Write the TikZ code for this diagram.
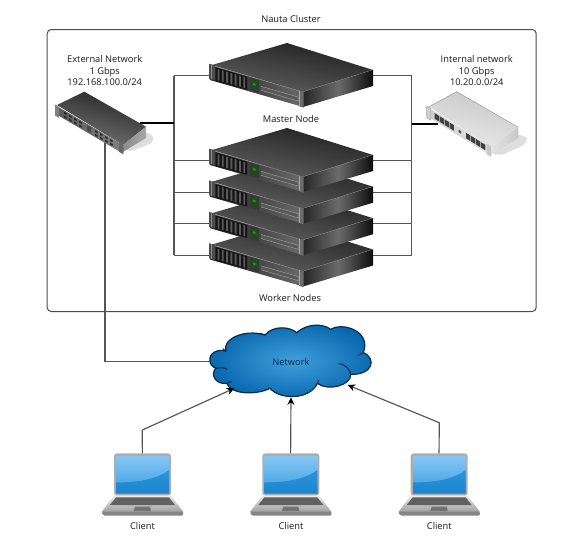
\documentclass[tikz,border=0pt]{standalone}
\usepackage{fontspec}
\setmainfont{Open Sans}
\usetikzlibrary{arrows.meta}
\definecolor{wire}{HTML}{555555}
\definecolor{navy}{HTML}{0A2A4A}
\definecolor{cloudin}{HTML}{3FA0DC}
\definecolor{cloudout}{HTML}{0867AE}
\definecolor{scrtop}{HTML}{86C8F4}
\definecolor{scrmid}{HTML}{3C9CE0}
\definecolor{scrlow}{HTML}{1D84CC}
\definecolor{scrlow2}{HTML}{2B95DC}
\tikzset{
  x=1pt,y=-1pt,
  wireline/.style={draw=wire,line width=1.15pt,line join=miter},
  arrowline/.style={wireline,-{Stealth[length=7.5pt,width=7pt,color=black]}},
  lab/.style={inner sep=0pt,align=center,font=\fontsize{9.3}{11.4}\selectfont,text=black!90},
}
\newcommand{\rackserver}[2]{%
 \begin{scope}[shift={(210,#2)}]
  \coordinate (#1-l) at (0,10.5);
  \coordinate (#1-r) at (163,10.5);
  % top face
  \path[top color=black!88,bottom color=black!62,shading angle=-12] (2,0) -- (77,-22) -- (163,5) -- (93,27) -- cycle;
  \draw[black!42,line width=0.8pt] (93,27) -- (163,5);
  % right face
  \path[left color=black!85,right color=black!95,middle color=black!58] (93,27) -- (163,5) -- (163,21) -- (93,42) -- cycle;
  % front face
  \begin{scope}[cm={1,-0.29,0,1,(0,0)}]
   \path[left color=black!88,right color=black!58] (0,0) rectangle (93,15);
   \draw[black!50,line width=0.6pt] (4,0) -- (93,0);
   \fill[black!70] (-1,-1) rectangle (5,14);
   \draw[black!45,line width=0.4pt] (1,-1) -- (1,14);
   \fill[black!92] (6,1) rectangle (37,14);
   \foreach \u in {7.5,11.8,16.1,20.4,24.7,29,33.3}
     \fill[black!65] (\u,2) rectangle ++(1.9,11);
   \fill[black!78] (40,1) rectangle (49,14);
   \fill[green!40!black] (41.5,4.5) rectangle (47,8.5);
   \fill[green!55!black!90] (42.8,5.5) rectangle (45.5,7.5);
   \draw[black!40,line width=0.5pt,fill=black!65] (51,6.5) -- (88,6.5) -- (88,10.5) -- (51,10.5);
   \fill[black!58] (89,-0.5) rectangle (93.5,15.5);
   \draw[black!35,line width=0.4pt] (89.6,0) -- (89.6,15);
  \end{scope}
 \end{scope}}
\newcommand{\laptop}[2]{%
 \begin{scope}[shift={(#2,320)},scale=1/3]
  \coordinate (#1-t) at (157,400);
  \fill[black!32,rounded corners=3pt] (72,400) rectangle (243,527);
  \path[top color=scrtop,bottom color=scrmid] (79,408) rectangle (237,520);
  \path[top color=scrlow2,bottom color=scrlow] (79,520) -- (79,487) .. controls (150,488) and (205,475) .. (237,450) -- (237,520) -- cycle;
  \path[top color=black!8,bottom color=black!38] (72,527) -- (243,527) -- (280,576) -- (35,576) -- cycle;
  \fill[black!48,rounded corners=2pt] (35,575) -- (280,575) -- (280,587) -- (38,587) -- cycle;
  \fill[black!62] (78,532) -- (237,532) -- (255,555) -- (60,555) -- cycle;
  \fill[black!55] (135,560) -- (180,560) -- (183,573) -- (131,573) -- cycle;
 \end{scope}}
\begin{document}
\begin{tikzpicture}
\useasboundingbox (0,0) rectangle (576,542);
\fill[white] (0,0) rectangle (576,542);

% cluster frame
\node[draw=black!70,line width=1pt,rounded corners=4pt,minimum width=489pt,minimum height=282pt,inner sep=0pt,anchor=north west] (frame) at (46.7,29) {};
\node[lab] (title) at (291,19) {Nauta Cluster};

% named ports used by connectors
\coordinate (extR) at (140,123);
\coordinate (extB) at (105,141);
\coordinate (intL) at (438,124);
\coordinate (busLtop) at (174,75.7);
\coordinate (busLmid) at (174,123);
\coordinate (busLw1) at (174,160.7);
\coordinate (busLw2) at (174,192.3);
\coordinate (busLw3) at (174,223.7);
\coordinate (busLw4) at (174,255.3);
\coordinate (busRtop) at (411.7,75.7);
\coordinate (busRmid) at (411.7,124);
\coordinate (busRw1) at (411.7,160.7);
\coordinate (busRw2) at (411.7,192.3);
\coordinate (busRw3) at (411.7,223.7);
\coordinate (busRw4) at (411.7,255.3);
\coordinate (netL) at (211,361.7);
\coordinate (netBL) at (234.3,388.3);
\coordinate (netB) at (291,397.3);
\coordinate (netBR) at (347.7,385);

% shadows under the switches
\fill[black!13,rounded corners=3pt] (125,150) -- (147,132) -- (154,137) -- (152,143) -- (132,151) -- cycle;
\fill[black!13,rounded corners=3pt] (492,154) -- (518,134) -- (528,138) -- (524,145) -- (502,155) -- cycle;

% connectors (devices are drawn over their ends)
\draw[wireline] (busLtop) -- (busLw4);
\draw[wireline] (busRtop) -- (busRw4);
\draw[wireline,black] (extR) -- (busLmid);
\draw[wireline,black] (intL) -- (busRmid);
\foreach \a/\b in {busLtop/220,busLw1/220,busLw2/220,busLw3/220,busLw4/220}
  \draw[wireline] (\a) -- (\b,0 |- \a);
\foreach \a in {busRtop,busRw1,busRw2,busRw3,busRw4}
  \draw[wireline] (\a) -- (360,0 |- \a);
\draw[wireline] (extB) |- (netL);

% servers
\rackserver{w4}{244.5}
\rackserver{w3}{213.2}
\rackserver{w2}{181.7}
\rackserver{w1}{150}
\rackserver{m}{65}
\node[lab] (master) at (291,119) {Master Node};
\node[lab] (workers) at (290,297.7) {Worker Nodes};

% external switch
\path[top color=black!85,bottom color=black!55,shading angle=-15] (57,105) -- (84.3,91.7) -- (146,126.7) -- (123,145) -- cycle;
\path[left color=black!45,right color=black!35] (123,145) -- (146,126.7) -- (146,138) -- (123,152) -- cycle;
\begin{scope}[shift={(55,105)},cm={1,-0.59,0,1,(0,0)}]
 \path[left color=black!65,right color=black!50] (0,0) rectangle (68,8.5);
 \fill[black!50] (0,-0.5) rectangle (4,10.5);
 \fill[black!60] (64,-0.5) rectangle (68.3,9);
 \foreach \u in {9,14,19,24,40,45,50,55} \foreach \v in {1.5,5.2}
   \fill[black!85] (\u,\v) rectangle ++(2.6,1.8);
 \fill[black!70] (32,1) rectangle (36,7);
\end{scope}
\node[lab] (extlab) at (104.7,70.7) {External Network\\1 Gbps\\192.168.100.0/24};

% internal switch
\path[top color=black!22,bottom color=black!8,shading angle=-15] (429,106.7) -- (456.7,91.7) -- (518.3,127.3) -- (490.7,146.7) -- cycle;
\draw[black!45,line width=0.4pt] (429,106.7) -- (456.7,91.7) -- (518.3,127.3);
\path[left color=black!10,right color=black!22] (490.7,146.7) -- (518.3,127.3) -- (518.3,138) -- (490.7,155) -- cycle;
\begin{scope}[shift={(426.7,106.7)},cm={1,-0.625,0,1,(0,0)}]
 \path[left color=black!20,right color=black!10] (0,0) rectangle (64,9);
 \fill[black!18] (0,-0.5) rectangle (4,11);
 \draw[black!45,line width=0.3pt] (0,-0.5) rectangle (4,11);
 \fill[black!22] (60,-0.5) rectangle (64.3,10);
 \foreach \u in {8,13,18,23,39.5,44.5,49.5,54.5}
   \fill[black!75] (\u,1.5) rectangle ++(4.2,5.5);
 \fill[black!70] (32,3) rectangle (34.5,5.5);
\end{scope}
\node[lab] (intlab) at (476.7,70.7) {Internal network\\10 Gbps\\10.20.0.0/24};

% cloud
\begin{scope}[shift={(90,320)},scale=1/3]
 \path[inner color=cloudin,outer color=cloudout,draw=navy,line width=1.2pt]
  (360,122) .. controls (355,100) and (385,85) .. (408,93)
  .. controls (395,60) and (460,25) .. (525,45)
  .. controls (550,15) and (600,20) .. (620,38)
  .. controls (650,10) and (700,10) .. (722,28)
  .. controls (760,5) and (845,35) .. (820,98)
  .. controls (860,115) and (850,165) .. (782,163)
  .. controls (785,195) and (715,215) .. (682,190)
  .. controls (660,240) and (570,240) .. (540,205)
  .. controls (500,225) and (425,225) .. (410,190)
  .. controls (375,195) and (360,160) .. (378,145)
  .. controls (365,140) and (360,130) .. (360,122) -- cycle;
 \draw[navy,line width=1pt]
  (408,93) .. controls (405,90) and (402,88) .. (398,86)
  (378,145) .. controls (390,142) and (402,143) .. (412,148)
  (525,45) .. controls (520,43) and (515,41) .. (510,40)
  (782,163) .. controls (782,150) and (765,132) .. (745,130)
  (820,98) .. controls (815,100) and (810,103) .. (805,105)
  (410,190) .. controls (412,188) and (418,185) .. (425,185)
  (682,190) .. controls (684,186) and (685,183) .. (686,180);
\end{scope}
\node[lab,text=navy] (netlab) at (291,361.7) {Network};

% clients
\laptop{c1}{90}
\laptop{c2}{238.3}
\laptop{c3}{386.7}
\coordinate (c1b) at (142.3,430);
\coordinate (c3b) at (439.3,422.7);
\draw[arrowline] (c1-t) -- (c1b) -- (netBL);
\draw[arrowline] (c2-t) -- (netB);
\draw[arrowline] (c3-t) -- (c3b) -- (netBR);
\node[lab] (cl1) at (142.5,526) {Client};
\node[lab] (cl2) at (291,526) {Client};
\node[lab] (cl3) at (439.3,526) {Client};
\end{tikzpicture}
\end{document}
